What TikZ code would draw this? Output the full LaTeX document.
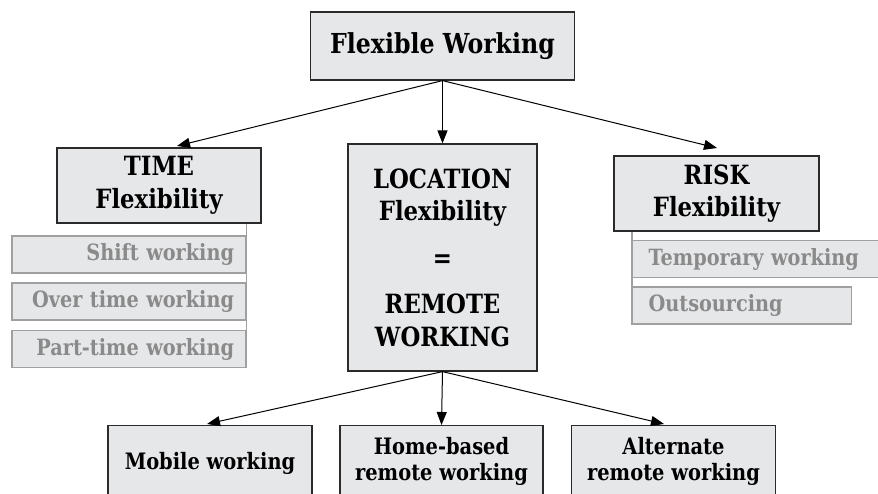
\documentclass[tikz,border=0pt]{standalone}
\usepackage{fontspec}
\newfontfamily\bx{DejaVu Serif}[FakeStretch=0.86]
\usetikzlibrary{arrows.meta}
\definecolor{boxgrey}{HTML}{E6E7E9}
\definecolor{subline}{HTML}{A0A0A0}
\definecolor{subtext}{HTML}{8A8A8A}
\definecolor{mainline}{HTML}{2A2A2A}
\tikzset{
  mainbox/.style={draw=mainline, line width=1.2pt, fill=boxgrey, align=center, inner sep=0pt,
    font=\bx\bfseries\fontsize{26.5}{32.5}\selectfont},
  subbox/.style={draw=subline, line width=1.2pt, fill=boxgrey, text=subtext, inner ysep=0pt,
    inner xsep=16pt, minimum height=37pt, font=\bx\bfseries\fontsize{22.4}{25}\selectfont},
  botbox/.style={draw=mainline, line width=1.2pt, fill=boxgrey, inner sep=0pt},
  bottext/.style={align=center, inner sep=0pt, font=\bx\bfseries\fontsize{22.6}{25.5}\selectfont},
  arr/.style={-{Triangle[length=13pt,width=10pt]}, line width=1pt, draw=black},
}
\begin{document}
\begin{tikzpicture}[x=1pt,y=-1pt]
\useasboundingbox (0,0) rectangle (878,494);
\clip (0,0) rectangle (878,494);
% top
\node[mainbox, minimum width=264pt, minimum height=68pt, font=\bx\bfseries\fontsize{27.5}{32}\selectfont] (fw) at (442.5,46) {Flexible Working};
% second row
\node[mainbox, minimum width=204pt, minimum height=75pt] (time) at (159,185.5) {TIME\\Flexibility};
\node[mainbox, minimum width=189pt, minimum height=227pt] (loc) at (442.5,257.5) {LOCATION\\Flexibility\\[14pt]=\\[14pt]REMOTE\\WORKING};
\node[mainbox, minimum width=205pt, minimum height=75pt] (risk) at (716.5,193.5) {RISK\\Flexibility};
% time sub boxes
\node[subbox, inner xsep=12pt, text width=210pt, align=right] (shift) at (129,254.5) {Shift working};
\node[subbox, inner xsep=12pt, text width=210pt, align=right] (over) at (129,301.5) {Over time working};
\node[subbox, inner xsep=12pt, text width=210pt, align=right] (part) at (129,349) {Part-time working};
\draw[subline, line width=1.2pt] (time.south -| shift.east) -- (part.south east);
% risk sub boxes
\node[subbox, text width=216pt, align=left, anchor=west] (temp) at (632,259) {Temporary working};
\node[subbox, text width=187pt, align=left, anchor=west] (outs) at (632,305.5) {Outsourcing};
\draw[subline, line width=1.2pt] (risk.south -| temp.west) -- (outs.south west);
% bottom row
\node[botbox, minimum width=204pt, minimum height=90pt, anchor=north] (mob) at (210,425) {};
\node[bottext] (mobt) at (210,463) {Mobile working};
\node[botbox, minimum width=203pt, minimum height=90pt, anchor=north] (home) at (441.5,425) {};
\node[bottext] (homet) at (441.5,461.5) {Home-based\\remote working};
\node[botbox, minimum width=204pt, minimum height=90pt, anchor=north] (alt) at (673.5,425) {};
\node[bottext] (altt) at (673.5,461.5) {Alternate\\remote working};
% arrow targets
\coordinate (tT) at (177,146);
\coordinate (tR) at (717,148);
\coordinate (tM) at (207,424);
\coordinate (tA) at (664,424);
% arrows
\draw[arr] (fw.south) -- (tT);
\draw[arr] (fw.south) -- (loc.north);
\draw[arr] (fw.south) -- (tR);
\draw[arr] (loc.south) -- (tM);
\draw[arr] (loc.south) -- (home.north);
\draw[arr] (loc.south) -- (tA);
\end{tikzpicture}
\end{document}
